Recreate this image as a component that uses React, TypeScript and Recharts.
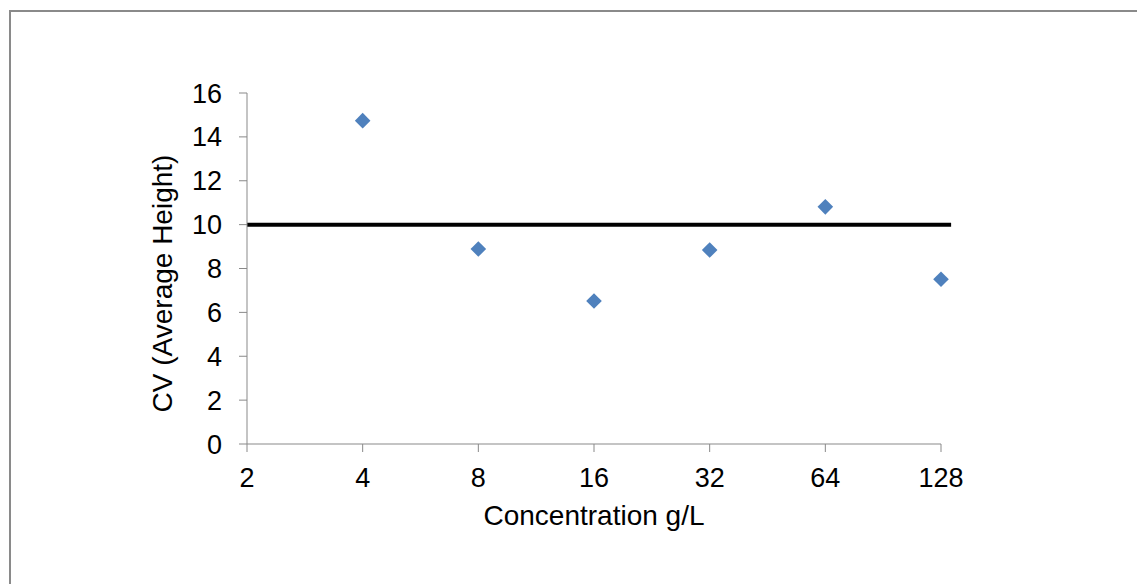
import * as React from 'react';
import {
  Label,
  ReferenceLine,
  Scatter,
  ScatterChart,
  XAxis,
  YAxis,
} from 'recharts';

// Data
const concentrations = [4, 8, 16, 32, 64, 128];
const cvValues = [14.74, 8.89, 6.52, 8.84, 10.81, 7.51];
const xTicks = [2, 4, 8, 16, 32, 64, 128];
const yTicks = [0, 2, 4, 6, 8, 10, 12, 14, 16];
const thresholdX = [2, 136];
const thresholdY = 10;

const scatterData = concentrations.map((x, i) => ({ x, y: cvValues[i] }));

const FONT = '"Liberation Sans", Arial, sans-serif';
const AXIS_GREY = '#898989';
const MARKER_BLUE = '#4F81BD';

const Diamond = (props: any) => {
  const { cx, cy } = props;
  const r = 7.8;
  return (
    <polygon
      points={`${cx},${cy - r} ${cx + r},${cy} ${cx},${cy + r} ${cx - r},${cy}`}
      fill={MARKER_BLUE}
    />
  );
};

const tickStyle = { fill: '#000', fontSize: 27, fontFamily: FONT };
const titleStyle = { fill: '#000', fontSize: 28, fontFamily: FONT };

export default function App() {
  return (
    <div
      style={{
        position: 'absolute',
        left: 0,
        top: 0,
        width: 1137,
        height: 584,
        overflow: 'hidden',
        background: '#fff',
      }}
    >
      <div
        style={{
          position: 'absolute',
          left: 9,
          top: 10,
          width: 1300,
          height: 800,
          border: '2px solid #8a8a8a',
        }}
      />
      <div style={{ position: 'absolute', left: 0, top: 0 }}>
        <ScatterChart
          width={1137}
          height={584}
          margin={{ top: 93, right: 196, left: 157, bottom: 59 }}
        >
          <XAxis
            type="number"
            dataKey="x"
            scale="log"
            domain={[2, 128]}
            ticks={xTicks}
            interval={0}
            height={81}
            stroke={AXIS_GREY}
            tickSize={8}
            tickMargin={16}
            tick={tickStyle}
          >
            <Label
              value="Concentration g/L"
              position="insideBottom"
              offset={0}
              style={titleStyle}
            />
          </XAxis>
          <YAxis
            type="number"
            dataKey="y"
            domain={[0, 16]}
            ticks={yTicks}
            interval={0}
            width={90}
            stroke={AXIS_GREY}
            tickSize={8}
            tickMargin={17}
            tick={tickStyle}
          >
            <Label
              value="CV (Average Height)"
              angle={-90}
              position="insideLeft"
              offset={5}
              dy={15}
              style={{ ...titleStyle, textAnchor: 'middle' }}
            />
          </YAxis>
          <ReferenceLine
            segment={[
              { x: thresholdX[0], y: thresholdY },
              { x: thresholdX[1], y: thresholdY },
            ]}
            stroke="#000"
            strokeWidth={4}
            ifOverflow="visible"
          />
          <Scatter
            data={scatterData}
            shape={Diamond}
            isAnimationActive={false}
          />
        </ScatterChart>
      </div>
    </div>
  );
}
